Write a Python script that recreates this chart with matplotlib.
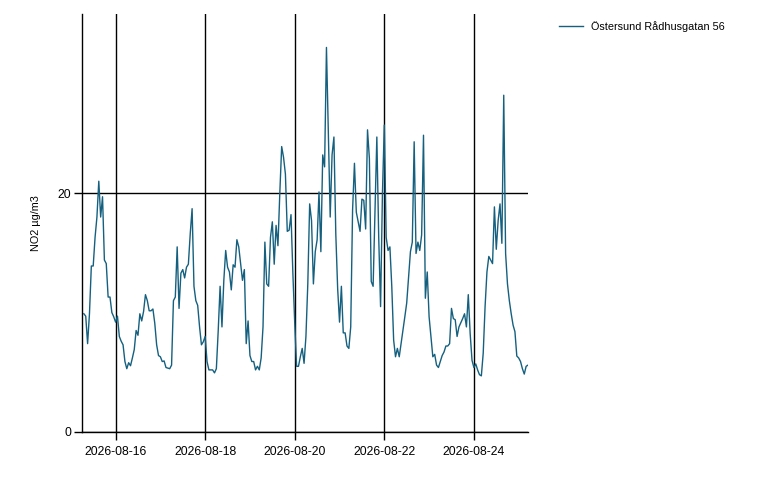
import numpy as np
import pandas as pd
import matplotlib
matplotlib.use("Agg")
import matplotlib.pyplot as plt
import matplotlib.dates as mdates

# Hourly NO2 readings, first hour 2026-08-15 07:00
START = "2026-08-15 07:00"
STATION = "Östersund Rådhusgatan 56"
NO2 = [
    9.9, 9.7, 7.4, 9.9, 13.9, 13.9, 16.3, 18.0, 21.0, 18.0,
    19.7, 14.4, 14.1, 11.3, 11.3, 10.0, 9.65, 9.2, 9.7, 8.0,
    7.6, 7.3, 5.9, 5.3, 5.8, 5.55, 6.2, 6.9, 8.5, 8.1,
    9.9, 9.3, 10.1, 11.5, 11.0, 10.15, 10.15, 10.3, 9.1, 7.3,
    6.4, 6.3, 5.9, 5.95, 5.4, 5.35, 5.3, 5.6, 11.0, 11.3,
    15.5, 10.35, 13.3, 13.6, 12.9, 13.8, 14.05, 16.6, 18.7, 12.2,
    11.0, 10.6, 8.8, 7.3, 7.55, 8.0, 5.9, 5.2, 5.2, 5.2,
    4.95, 5.3, 8.5, 12.2, 8.8, 12.7, 15.2, 13.8, 13.4, 11.9,
    14.0, 13.8, 16.1, 15.5, 14.1, 12.7, 13.6, 7.4, 9.3, 6.4,
    5.9, 5.9, 5.2, 5.5, 5.2, 6.2, 8.8, 15.9, 12.4, 12.2,
    16.3, 17.6, 14.05, 17.3, 15.6, 20.0, 23.9, 23.0, 21.6, 16.8,
    16.9, 18.2, 13.3, 9.1, 5.5, 5.5, 6.3, 7.0, 5.75, 8.0,
    12.4, 19.1, 17.7, 12.4, 15.1, 16.1, 20.1, 15.1, 23.2, 22.2,
    32.2, 25.3, 18.0, 23.2, 24.7, 16.6, 12.0, 9.2, 12.2, 8.3,
    8.3, 7.2, 7.0, 8.8, 18.6, 22.5, 18.4, 17.6, 16.8, 19.5,
    19.4, 17.0, 25.3, 22.9, 12.6, 12.2, 18.6, 24.7, 16.3, 10.5,
    20.0, 25.7, 16.3, 15.2, 15.5, 12.2, 7.7, 6.3, 7.0, 6.3,
    7.4, 8.5, 9.65, 10.8, 13.0, 15.1, 15.9, 24.3, 14.95, 15.9,
    15.2, 16.5, 24.85, 11.2, 13.4, 9.65, 8.0, 6.3, 6.5, 5.6,
    5.4, 5.9, 6.4, 6.7, 7.2, 7.2, 7.4, 10.35, 9.5, 9.4,
    8.0, 8.8, 9.15, 9.5, 9.9, 8.8, 11.5, 8.26, 6.0, 5.4,
    5.7, 5.2, 4.8, 4.7, 6.6, 10.5, 13.4, 14.7, 14.4, 14.1,
    18.85, 15.3, 17.7, 19.1, 15.8, 28.2, 14.95, 12.4, 11.0, 9.9,
    8.95, 8.4, 6.36, 6.2, 5.9, 5.3, 4.85, 5.5, 5.6,
]
Y_TICKS = [0, 20]
X_TICKS = pd.date_range("2026-08-16", periods=5, freq="2D")

times = pd.date_range(START, periods=len(NO2), freq="h")

plt.rcParams["font.family"] = ["Liberation Sans", "DejaVu Sans"]

fig = plt.figure(figsize=(7.6, 4.8), dpi=100)
ax = fig.add_axes([82 / 760, 1 - 432 / 480, (528 - 82) / 760, (432 - 14) / 480])

line, = ax.plot(times, NO2, color="#15607f", linewidth=1.0, label=STATION)

ax.set_xlim(times[0] - pd.Timedelta(hours=1), times[-1])
ax.set_ylim(0, 35)
ax.set_yticks(Y_TICKS)
ax.set_xticks(X_TICKS)
ax.xaxis.set_major_formatter(mdates.DateFormatter("%Y-%m-%d"))

ax.grid(True, color="black", linewidth=1.0)
ax.set_axisbelow(True)
for side in ("top", "right"):
    ax.spines[side].set_visible(False)
for side in ("left", "bottom"):
    ax.spines[side].set_linewidth(1.0)
ax.tick_params(axis="both", length=6, width=1.0, labelsize=8.8, pad=2)
ax.tick_params(axis="x", pad=4)

ax.set_ylabel("NO2 µg/m3", fontsize=7.8)
ax.yaxis.set_label_coords(-0.091, 0.5)

fig.legend(handles=[line], loc="upper left", bbox_to_anchor=(549 / 760, 1 - 11 / 480),
           frameon=False, fontsize=7.8, handlelength=2.2, handletextpad=0.75)

fig.savefig("out.png", dpi=100, facecolor="white")
